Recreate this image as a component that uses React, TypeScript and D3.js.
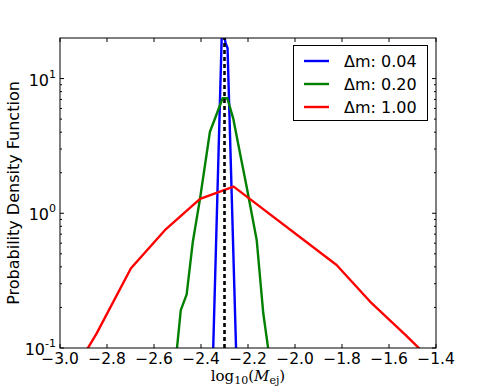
import React from 'react';
import * as d3 from 'd3';

// data (x = log10 Mej, y = pdf)
const blueX = [-2.35, -2.31, -2.296, -2.287, -2.25];
const blueY = [0.074, 27, 18.5, 16.8, 0.088];
const greenX = [-2.511, -2.486, -2.461, -2.435, -2.404, -2.362, -2.34, -2.308, -2.288, -2.263, -2.234, -2.206, -2.163, -2.135, -2.11];
const greenY = [0.07, 0.191, 0.25, 0.61, 1.29, 4.03, 5.07, 7.14, 7.14, 5.07, 2.79, 1.58, 0.634, 0.181, 0.088];
const redX = [-2.99, -2.844, -2.698, -2.549, -2.404, -2.261, -1.823, -1.674, -1.528, -1.382];
const redY = [0.048, 0.1285, 0.391, 0.764, 1.277, 1.576, 0.413, 0.215, 0.124, 0.07];
const trueValue = -2.3;
const legendLabels = ['\u0394m: 0.04', '\u0394m: 0.20', '\u0394m: 1.00'];
const seriesColors = ['#0000ff', '#008000', '#ff0000'];
const xTicks = [-3.0, -2.8, -2.6, -2.4, -2.2, -2.0, -1.8, -1.6, -1.4];
const yTicks = [0.1, 1, 10];
const yTickExp = ['-1', '0', '1'];

const W = 485;
const H = 388;
const m = { left: 60, right: 49, top: 38, bottom: 40 };

export default function App() {
  const x = d3.scaleLinear().domain([-3.0, -1.4]).range([m.left, W - m.right]);
  const y = d3.scaleLog().domain([0.1, 20]).range([H - m.bottom, m.top]);
  const x0 = m.left, x1 = W - m.right, y0 = H - m.bottom, y1 = m.top;

  const line = d3.line<[number, number]>().x(d => x(d[0])).y(d => y(d[1]));
  const series = [
    blueX.map((v, i) => [v, blueY[i]] as [number, number]),
    greenX.map((v, i) => [v, greenY[i]] as [number, number]),
    redX.map((v, i) => [v, redY[i]] as [number, number]),
  ];

  const minor: number[] = [];
  for (const dec of [0.1, 1, 10]) {
    for (let k = 2; k <= 9; k++) {
      const v = dec * k;
      if (v < 20) minor.push(v);
    }
  }

  const font = 'DejaVu Sans, sans-serif';

  return (
    <svg width={W} height={H} style={{ position: 'absolute', left: 0, top: 0, background: '#fff' }}>
      <defs>
        <clipPath id="plot">
          <rect x={x0} y={y1} width={x1 - x0} height={y0 - y1} />
        </clipPath>
      </defs>
      <rect x={0} y={0} width={W} height={H} fill="#fff" />
      <g clipPath="url(#plot)">
        {series.map((s, i) => (
          <path key={i} d={line(s) || ''} fill="none" stroke={seriesColors[i]} strokeWidth={2.4} strokeLinejoin="round" />
        ))}
        <line x1={x(trueValue)} x2={x(trueValue)} y1={y0} y2={y1} stroke="#000" strokeWidth={2.6} strokeDasharray="4,3" />
      </g>

      {/* ticks */}
      {xTicks.map((t, i) => (
        <g key={i}>
          <line x1={x(t)} x2={x(t)} y1={y0} y2={y0 - 4} stroke="#000" />
          <line x1={x(t)} x2={x(t)} y1={y1} y2={y1 + 4} stroke="#000" />
          <text x={x(t)} y={y0 + 16} fontFamily={font} fontSize={15.5} textAnchor="middle">
            {t.toFixed(1).replace('-', '\u2212')}
          </text>
        </g>
      ))}
      {minor.map((t, i) => (
        <g key={i}>
          <line x1={x0} x2={x0 + 2} y1={y(t)} y2={y(t)} stroke="#000" />
          <line x1={x1} x2={x1 - 2} y1={y(t)} y2={y(t)} stroke="#000" />
        </g>
      ))}
      {yTicks.map((t, i) => (
        <g key={i}>
          <line x1={x0} x2={x0 + 4} y1={y(t)} y2={y(t)} stroke="#000" />
          <line x1={x1} x2={x1 - 4} y1={y(t)} y2={y(t)} stroke="#000" />
          <text x={x0 - 4} y={y(t) + 7} fontFamily={font} fontSize={16} textAnchor="end">
            10<tspan fontSize={11} dy={-8}>{yTickExp[i]}</tspan>
          </text>
        </g>
      ))}

      <rect x={x0} y={y1} width={x1 - x0} height={y0 - y1} fill="none" stroke="#000" strokeWidth={1} />

      {/* legend */}
      <rect x={293.5} y={45.5} width={134} height={75} fill="#fff" stroke="#000" strokeWidth={1} />
      {legendLabels.map((l, i) => (
        <g key={i}>
          <line x1={304} x2={329} y1={61 + i * 23} y2={61 + i * 23} stroke={seriesColors[i]} strokeWidth={2.4} />
          <text x={344} y={67 + i * 23} fontFamily={font} fontSize={16}>{l}</text>
        </g>
      ))}

      {/* axis labels */}
      <text transform={`translate(19,${(y0 + y1) / 2}) rotate(-90)`} fontFamily={font} fontSize={16} textAnchor="middle">
        Probability Density Function
      </text>
      <text x={(x0 + x1) / 2} y={381} fontFamily="DejaVu Serif, serif" fontSize={15} textAnchor="middle">
        log<tspan fontSize={11} dy={3}>10</tspan><tspan dy={-3}>(</tspan><tspan fontStyle="italic">M</tspan><tspan fontSize={11} dy={3}>ej</tspan><tspan dy={-3}>)</tspan>
      </text>
    </svg>
  );
}
